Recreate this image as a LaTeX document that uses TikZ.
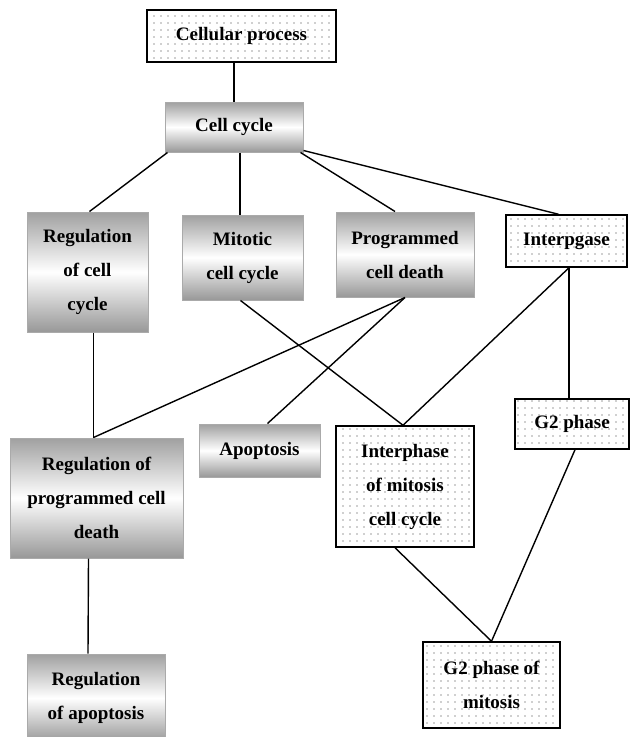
\documentclass[tikz,border=0pt]{standalone}
\usepackage{fontspec}
\setmainfont{Liberation Serif}
\usetikzlibrary{calc,patterns.meta}
\definecolor{shadegray}{RGB}{160,160,160}
\definecolor{edgegray}{RGB}{170,170,170}
\tikzset{
  boxbase/.style={rectangle, inner sep=0pt, align=center,
    font=\fontsize{19}{34}\selectfont\bfseries},
  gbox/.style={boxbase, draw=edgegray, line width=1pt,
    top color=shadegray, bottom color=shadegray!95!black, middle color=white},
  dbox/.style={boxbase, draw=black, line width=1.5pt,
    pattern={Dots[distance=7pt,radius=0.7pt]}, pattern color=black!80},
  conn/.style={draw=black, line width=1.4pt}
}
\begin{document}
\begin{tikzpicture}[x=1pt,y=-1pt]
\useasboundingbox (0,0) rectangle (630,737);
% nodes
\node[dbox, minimum width=189, minimum height=52] (cp) at (241.5,36) {Cellular process};
\node[gbox, minimum width=138, minimum height=50] (cc) at (234,127) {Cell cycle};
\node[gbox, minimum width=121, minimum height=120] (rcc) at (87.5,272) {Regulation\\of cell\\cycle};
\node[gbox, minimum width=121, minimum height=85] (mcc) at (242.5,257.5) {Mitotic\\cell cycle};
\node[gbox, minimum width=138, minimum height=85] (pcd) at (405,254.5) {Programmed\\cell death};
\node[dbox, minimum width=121, minimum height=52] (ip) at (566.5,241) {Interpgase};
\node[dbox, minimum width=114, minimum height=50] (g2) at (572,424) {G2 phase};
\node[dbox, minimum width=138, minimum height=121] (imcc) at (405,486.5) {Interphase\\of mitosis\\cell cycle};
\node[dbox, minimum width=137, minimum height=86] (g2m) at (491.5,685) {G2 phase of\\mitosis};
\node[gbox, minimum width=173, minimum height=120] (rpcd) at (96.5,498) {Regulation of\\programmed cell\\death};
\node[gbox, minimum width=121, minimum height=53] (apo) at (259.5,450.5) {Apoptosis};
\node[gbox, minimum width=138, minimum height=88] (rap) at (96,698) {Regulation\\of apoptosis};
% connectors
\draw[conn] (cc.north |- cp.south) -- (cc.north);
\draw[conn] ($(cc.south west)+(3,0)$) -- ($(rcc.north)+(2,0)$);
\draw[conn] ($(cc.south)+(6,0)$) -- ($(mcc.north)+(-2.5,0)$);
\draw[conn] ($(cc.south east)+(-3,0)$) -- ($(pcd.north)+(-10,0)$);
\draw[conn] ($(cc.south east)+(0,-2)$) -- ($(ip.north)+(-8,0)$);
\draw[conn] ($(rcc.south)+(6,0)$) -- ($(rpcd.north)+(-3,0)$);
\draw[conn] (pcd.south) -- ($(rpcd.north)+(-3,0)$);
\draw[conn] (pcd.south) -- ($(apo.north)+(8,0)$);
\draw[conn] ($(mcc.south)+(-2,0)$) -- ($(imcc.north)+(-2,0)$);
\draw[conn] ($(ip.south)+(2.5,0)$) -- ($(imcc.north)+(-2,0)$);
\draw[conn] ($(ip.south)+(2.5,0)$) -- ($(g2.north)+(-3,0)$);
\draw[conn] ($(imcc.south)+(-10,0)$) -- (g2m.north);
\draw[conn] ($(g2.south)+(3,0)$) -- (g2m.north);
\draw[conn] ($(rpcd.south)+(-8,0)$) -- ($(rap.north)+(-8,0)$);
\end{tikzpicture}
\end{document}
